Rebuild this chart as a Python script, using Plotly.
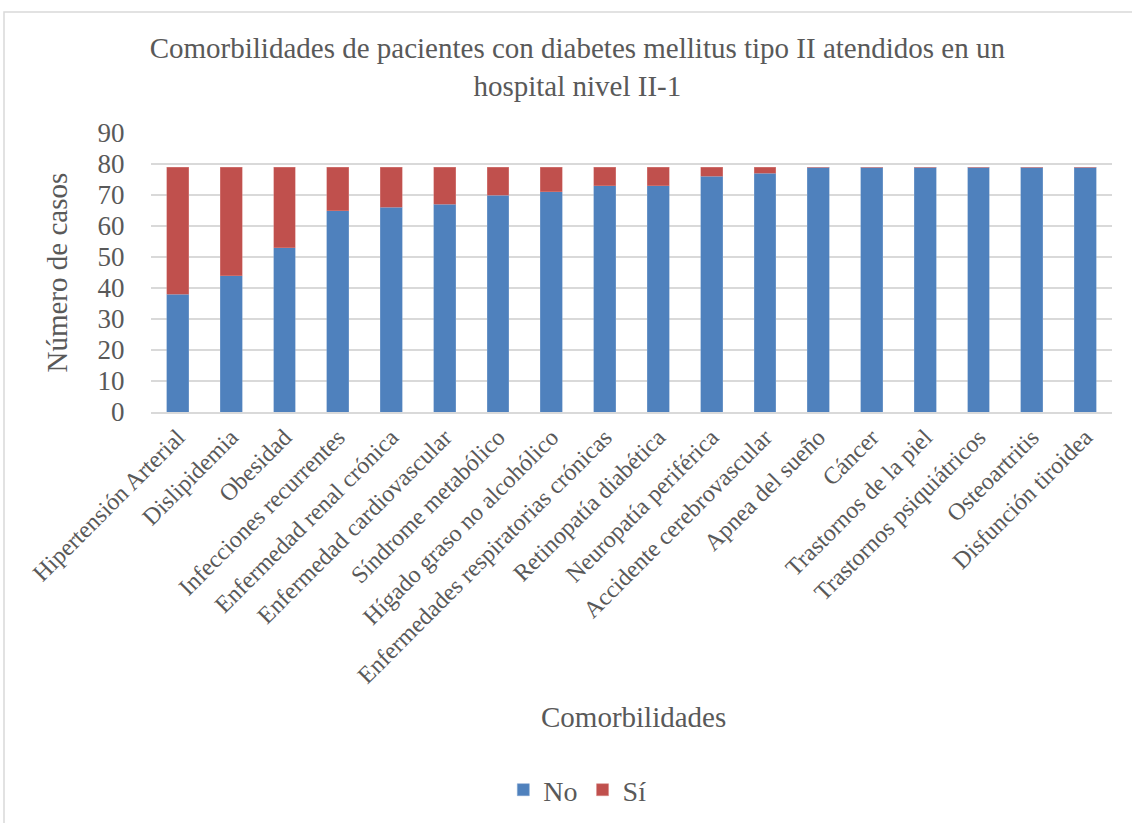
import plotly.graph_objects as go

categories = ["Hipertensión Arterial", "Dislipidemia", "Obesidad", "Infecciones recurrentes",
              "Enfermedad renal crónica", "Enfermedad cardiovascular", "Síndrome metabólico",
              "Hígado graso no alcohólico", "Enfermedades respiratorias crónicas",
              "Retinopatía diabética", "Neuropatía periférica", "Accidente cerebrovascular",
              "Apnea del sueño", "Cáncer", "Trastornos de la piel", "Trastornos psiquiátricos",
              "Osteoartritis", "Disfunción tiroidea"]
no_vals = [38, 44, 53, 65, 66, 67, 70, 71, 73, 73, 76, 77, 79, 79, 79, 79, 79, 79]
si_vals = [41, 35, 26, 14, 13, 12, 9, 8, 6, 6, 3, 2, 0, 0, 0, 0, 0, 0]

FONT = "Liberation Serif"
TXT = "#595959"

fig = go.Figure()
fig.add_trace(go.Bar(x=categories, y=no_vals, name="No", marker_color="#4F81BD",
                     marker_line=dict(color="#7FA3D0", width=0.5), width=0.41))
fig.add_trace(go.Bar(x=categories, y=si_vals, name="Sí", marker_color="#C0504D",
                     marker_line=dict(color="#D98886", width=0.5), width=0.41))

fig.update_layout(
    barmode="stack",
    width=1132, height=823,
    margin=dict(l=151, r=20, t=133, b=411),
    paper_bgcolor="white", plot_bgcolor="white",
    font=dict(family=FONT, color=TXT),
    title=dict(text="Comorbilidades de pacientes con diabetes mellitus tipo II atendidos en un<br>hospital nivel II-1",
               x=0.51, xref="container", xanchor="center", y=1 - 58 / 823, yref="container", yanchor="middle",
               font=dict(size=29, family=FONT, color=TXT)),
    legend=dict(orientation="h", x=0.51, xref="container", xanchor="center", traceorder="normal",
                y=1 - 790 / 823, yref="container", yanchor="middle",
                font=dict(size=28, family=FONT, color=TXT), itemwidth=30),
    xaxis=dict(tickangle=-45, tickfont=dict(size=24, family=FONT, color=TXT),
               showline=True, linecolor="#d9d9d9", linewidth=1.5, ticks="", showgrid=False),
    yaxis=dict(range=[0, 90], dtick=10, tickfont=dict(size=27, family=FONT, color=TXT),
               gridcolor="#d9d9d9", gridwidth=1.5, zeroline=False, showline=False,
               ticks="outside", ticklen=20, tickcolor="rgba(0,0,0,0)"),
    bargap=0.59,
    annotations=[
        dict(text="Comorbilidades", xref="paper", yref="paper", x=(633 - 151) / 961, y=-(717 - 412) / 279,
             showarrow=False, font=dict(size=29, family=FONT, color=TXT), yanchor="middle"),
        dict(text="Número de casos", xref="paper", yref="paper", x=(56 - 151) / 961, y=0.5,
             textangle=-90, showarrow=False, font=dict(size=29, family=FONT, color=TXT),
             xanchor="center", yanchor="middle"),
    ],
    shapes=[dict(type="rect", xref="paper", yref="paper",
                 x0=(4 - 151) / 961, x1=(1140 - 151) / 961,
                 y0=(412 - 830) / 279, y1=(412 - 12) / 279,
                 line=dict(color="#d9d9d9", width=1.5), fillcolor="rgba(0,0,0,0)", layer="below")],
)

fig.write_html("out.html")
